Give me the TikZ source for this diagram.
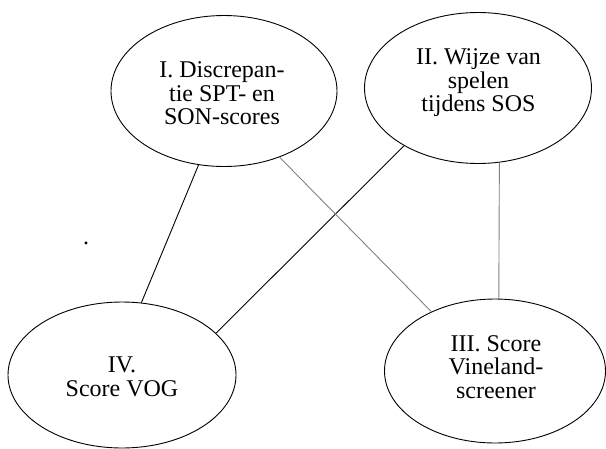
\documentclass[tikz,border=0pt]{standalone}
\usepackage{fontspec}
\setmainfont{Liberation Serif}
\usetikzlibrary{shapes.geometric}
\tikzset{
  oval/.style={ellipse, draw=black, line width=0.9pt, inner sep=0pt},
  txt/.style={align=center, inner sep=0pt, font=\fontsize{24}{23.5}\selectfont},
  dark/.style={draw=black, line width=0.9pt},
  light/.style={draw=black!50, line width=0.9pt},
}
\begin{document}
\begin{tikzpicture}[x=1pt,y=-1pt]
\useasboundingbox (0,0) rectangle (606,448);
\node[oval, minimum width=226pt, minimum height=151pt] (I) at (224,91) {};
\node[oval, minimum width=227pt, minimum height=151pt] (II) at (478,88) {};
\node[oval, minimum width=221pt, minimum height=144pt] (III) at (495,371) {};
\node[oval, minimum width=228pt, minimum height=146pt] (IV) at (122,375) {};
\node[txt] (It) at (222,93.5) {I. Discrepan-\\tie SPT- en\\SON-scores};
\node[txt] (IIt) at (478.5,83) {II. Wijze van\\spelen\\tijdens SOS};
\node[txt] (IIIt) at (496,367) {III. Score\\Vineland-\\screener};
\node[txt] (IVt) at (122,377) {IV.\\Score VOG};
\node[txt] (dot) at (86,243) {.};
\draw[dark] (I.-109) -- (IV.75);
\draw[dark] (II.-142) -- (IV.24);
\draw[light] (I.-50) -- (III.137);
\draw[light] (II.-74.5) -- (III.87);
\end{tikzpicture}
\end{document}
